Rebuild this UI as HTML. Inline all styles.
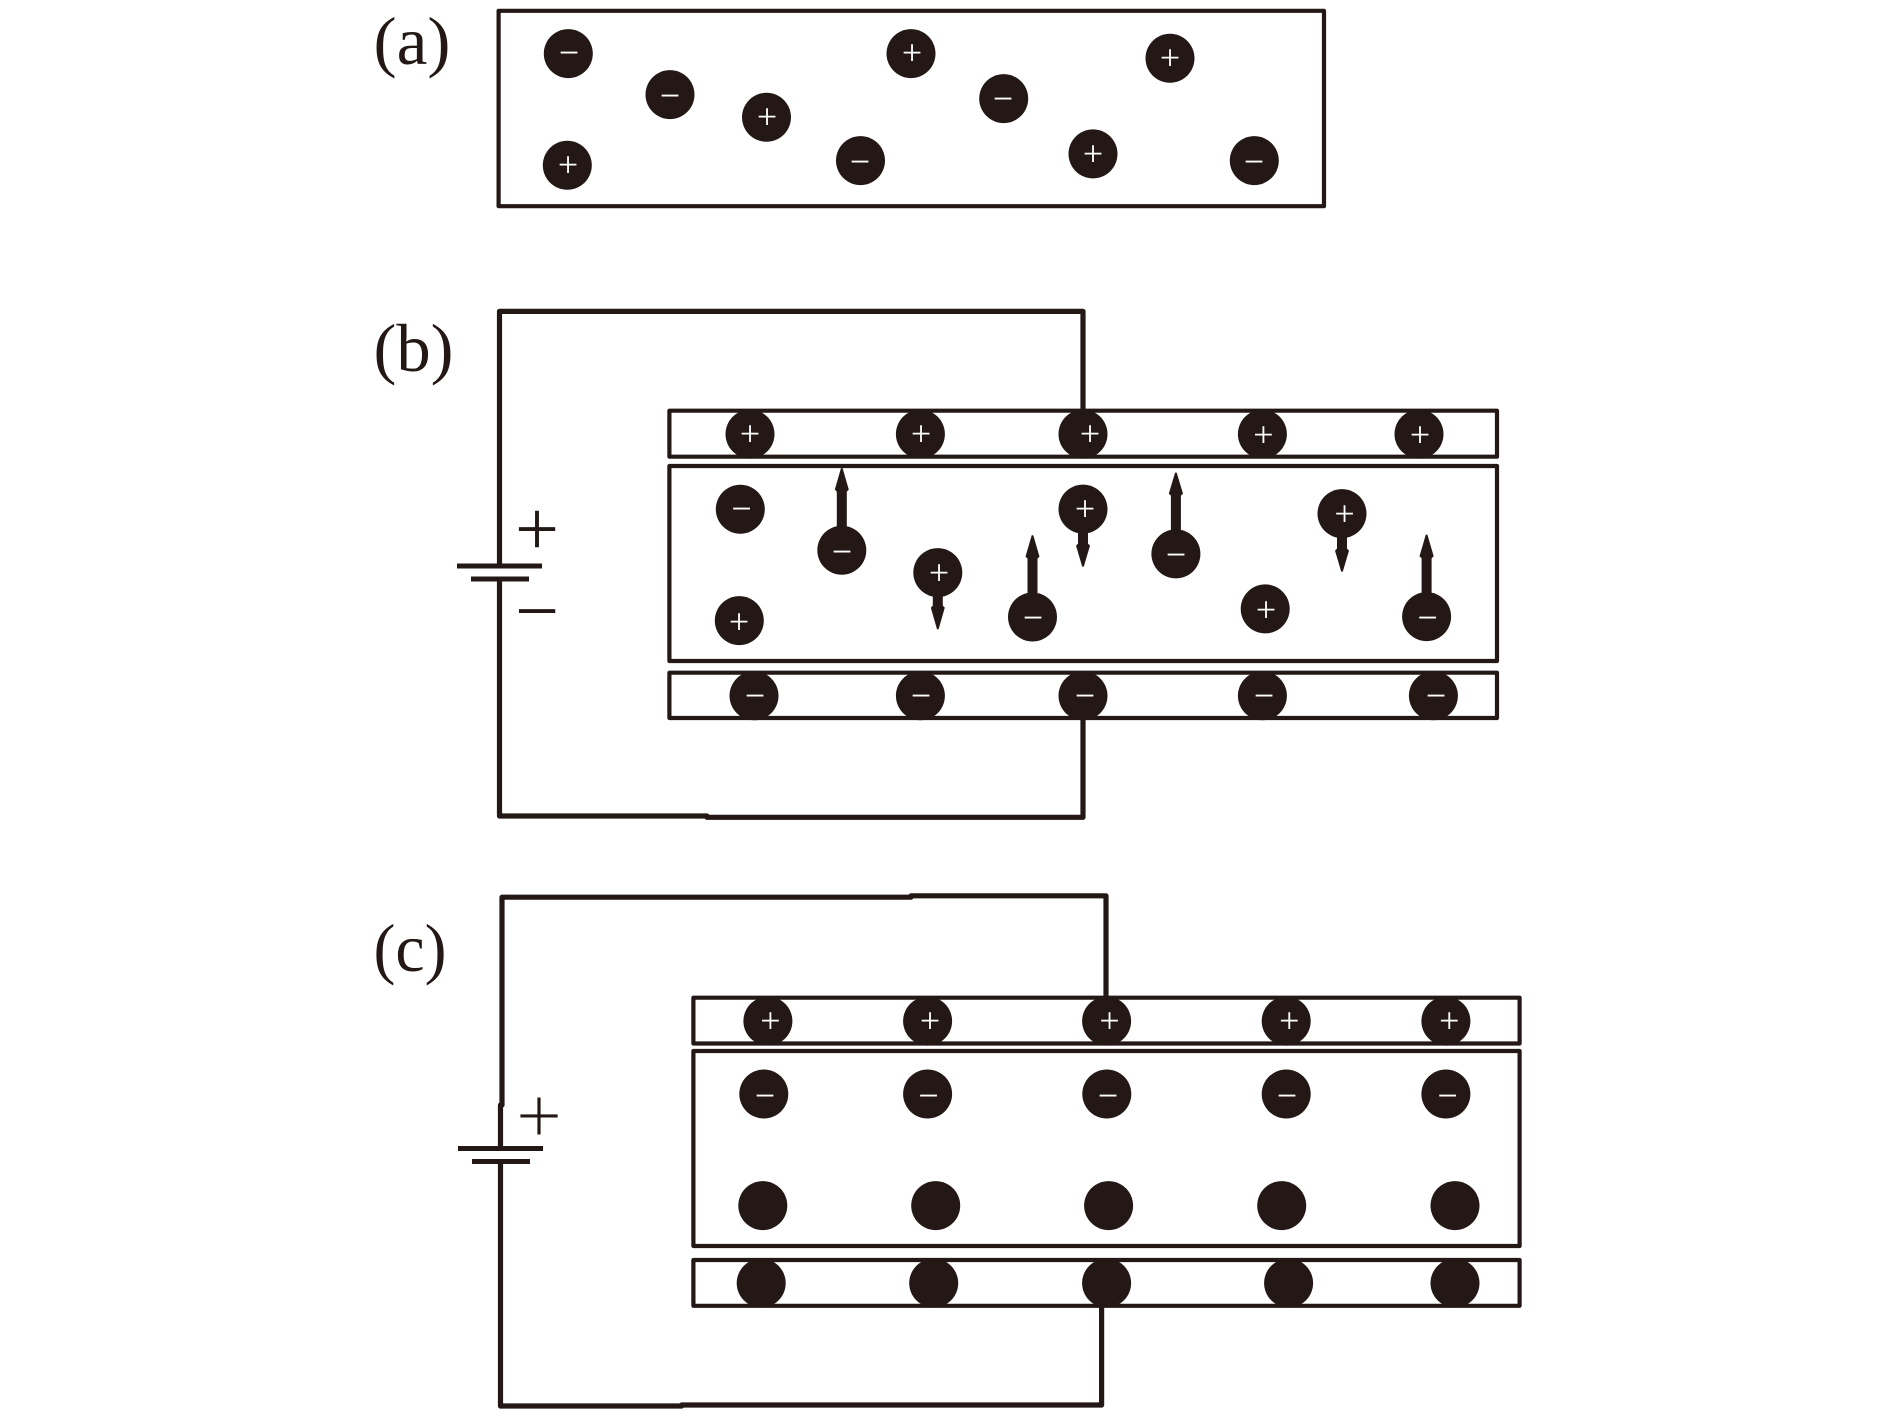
<!DOCTYPE html>
<html>
<head>
<meta charset="utf-8">
<style>
html,body{margin:0;padding:0;background:#fff;width:1890px;height:1418px;overflow:hidden}
svg{display:block}
.l{font-family:"Liberation Serif",serif;font-size:68px;fill:#231815}
.s{font-family:"Liberation Serif",serif;font-size:36px;fill:#fff;text-anchor:middle;transform:translateY(2.5px)}
.b{font-family:"Liberation Serif",serif;font-size:78px;fill:#231815;text-anchor:middle}
.r{fill:none;stroke:#231815;stroke-width:4.2;stroke-linejoin:round}
.w{fill:none;stroke:#231815;stroke-width:5.2;stroke-linejoin:round}
.c{fill:#231815;transform:translateY(.6px)}
</style>
</head>
<body>
<svg xmlns="http://www.w3.org/2000/svg" width="1890" height="1418" viewBox="0 0 1890 1418">
<rect width="1890" height="1418" fill="#fff"/>

<!-- labels -->
<text class="l" x="373.5" y="64" textLength="77" lengthAdjust="spacingAndGlyphs">(a)</text>
<text class="l" x="373.5" y="371" textLength="80" lengthAdjust="spacingAndGlyphs">(b)</text>
<text class="l" x="373.5" y="971" textLength="73" lengthAdjust="spacingAndGlyphs">(c)</text>

<!-- panel a -->
<g class="c">
<circle cx="568.3" cy="53" r="24.5"/><circle cx="670" cy="94" r="24.5"/><circle cx="766.5" cy="116.7" r="24.5"/>
<circle cx="911" cy="53" r="24.5"/><circle cx="1003.7" cy="98" r="24.5"/><circle cx="1170" cy="57.7" r="24.5"/>
<circle cx="567.3" cy="164.7" r="24.5"/><circle cx="860.5" cy="160" r="24.5"/><circle cx="1093" cy="153.3" r="24.5"/>
<circle cx="1254.3" cy="160" r="24.5"/>
</g>
<rect class="r" x="498.6" y="10.8" width="825.4" height="195.4"/>
<text class="s" x="569" y="62">−</text>
<text class="s" x="670" y="105">−</text>
<text class="s" x="767" y="126">+</text>
<text class="s" x="912" y="62">+</text>
<text class="s" x="1003" y="108">−</text>
<text class="s" x="1170" y="67">+</text>
<text class="s" x="568" y="174">+</text>
<text class="s" x="860" y="171">−</text>
<text class="s" x="1093" y="163">+</text>
<text class="s" x="1254" y="171">−</text>

<!-- panel b wires & battery -->
<path class="w" d="M499.5 566V311.4H1083V411"/>
<path class="w" d="M499.5 579V816H707V817.3H1083V718"/>
<rect x="457" y="563.5" width="85" height="5" fill="#231815"/>
<rect x="471" y="576.5" width="58" height="5" fill="#231815"/>
<text class="b" x="537" y="555">+</text>
<text class="b" x="537" y="637">−</text>

<!-- panel b circles -->
<g class="c">
<circle cx="750" cy="433.5" r="24.5"/><circle cx="920.4" cy="433.5" r="24.5"/><circle cx="1083" cy="433.5" r="24.5"/><circle cx="1262.4" cy="433.5" r="24.5"/><circle cx="1419" cy="433.5" r="24.5"/>
<circle cx="740.3" cy="508.6" r="24.5"/><circle cx="739.3" cy="620" r="24.5"/><circle cx="841.8" cy="549.6" r="24.5"/>
<circle cx="937.8" cy="572" r="24.5"/><circle cx="1032.5" cy="616.4" r="24.5"/><circle cx="1083" cy="508.5" r="24.5"/>
<circle cx="1175.9" cy="553.3" r="24.5"/><circle cx="1342" cy="513" r="24.5"/><circle cx="1265.2" cy="608.3" r="24.5"/>
<circle cx="1426.6" cy="616" r="24.5"/>
<circle cx="754" cy="695.2" r="24.5"/><circle cx="920.4" cy="695.2" r="24.5"/><circle cx="1083" cy="695.2" r="24.5"/><circle cx="1262.4" cy="695.2" r="24.5"/><circle cx="1433.4" cy="695.2" r="24.5"/>
<!-- arrows -->
<polygon points="841,467.5 842.6,467.5 848.8,489 846.8,491 846.8,530 836.8,530 836.8,491 834.8,489"/>
<polygon points="1031.7,534.6 1033.3,534.6 1039.5,556 1037.5,558 1037.5,595 1027.5,595 1027.5,558 1025.5,556"/>
<polygon points="1175.1,472 1176.7,472 1183,493 1180.9,495 1180.9,532 1170.9,532 1170.9,495 1168.8,493"/>
<polygon points="1425.8,534 1427.4,534 1433.7,555.7 1431.6,557.7 1431.6,595 1421.6,595 1421.6,557.7 1419.5,555.7"/>
<polygon points="938.6,628.6 937,628.6 930.8,607 932.8,605 932.8,590 942.8,590 942.8,605 944.8,607"/>
<polygon points="1083.8,566 1082.2,566 1076,545 1078,543 1078,526 1088,526 1088,543 1090,545"/>
<polygon points="1342.8,571 1341.2,571 1335,550 1337,548 1337,531 1347,531 1347,548 1349,550"/>
</g>
<rect class="r" x="669.4" y="410.7" width="827.6" height="46"/>
<rect class="r" x="669.4" y="466" width="827.6" height="195"/>
<rect class="r" x="669.4" y="672.7" width="827.6" height="45.3"/>
<text class="s" x="750" y="443">+</text>
<text class="s" x="921" y="443">+</text>
<text class="s" x="1090" y="443">+</text>
<text class="s" x="1263.4" y="444">+</text>
<text class="s" x="1420" y="444">+</text>
<text class="s" x="741.5" y="518">−</text>
<text class="s" x="739" y="631">+</text>
<text class="s" x="842" y="561">−</text>
<text class="s" x="939" y="582">+</text>
<text class="s" x="1033" y="627">−</text>
<text class="s" x="1085" y="518">+</text>
<text class="s" x="1176" y="564">−</text>
<text class="s" x="1344.5" y="523">+</text>
<text class="s" x="1266" y="619">+</text>
<text class="s" x="1427.6" y="627">−</text>
<text class="s" x="755" y="705">−</text>
<text class="s" x="921" y="705">−</text>
<text class="s" x="1085" y="705">−</text>
<text class="s" x="1264" y="705">−</text>
<text class="s" x="1436" y="705">−</text>

<!-- panel c wires & battery -->
<path class="w" d="M500.5 1146V1105H502V897.2H911V895.8H1106V998"/>
<path class="w" d="M500.5 1161V1406H681.6V1405H1101.6V1306"/>
<rect x="458" y="1146" width="85" height="5" fill="#231815"/>
<rect x="472" y="1159" width="58" height="5" fill="#231815"/>
<text class="b" x="539" y="1143" stroke="#fff" stroke-width="0.9" style="font-size:82px">+</text>

<!-- panel c circles -->
<g class="c">
<circle cx="767.9" cy="1020.5" r="24.5"/><circle cx="927.6" cy="1020.5" r="24.5"/><circle cx="1106.6" cy="1020.5" r="24.5"/><circle cx="1286.2" cy="1020.5" r="24.5"/><circle cx="1445.9" cy="1020.5" r="24.5"/>
<circle cx="763.8" cy="1093.4" r="24.5"/><circle cx="927.6" cy="1093.4" r="24.5"/><circle cx="1106.8" cy="1093.4" r="24.5"/><circle cx="1286.2" cy="1093.4" r="24.5"/><circle cx="1445.9" cy="1093.4" r="24.5"/>
<circle cx="762.8" cy="1205" r="24.5"/><circle cx="935.7" cy="1205" r="24.5"/><circle cx="1108.6" cy="1205" r="24.5"/><circle cx="1281.7" cy="1205" r="24.5"/><circle cx="1455" cy="1205" r="24.5"/>
<circle cx="761.2" cy="1282.5" r="24.5"/><circle cx="933.7" cy="1282.5" r="24.5"/><circle cx="1106.6" cy="1282.5" r="24.5"/><circle cx="1288.6" cy="1282.5" r="24.5"/><circle cx="1455" cy="1282.5" r="24.5"/>
</g>
<rect class="r" x="693.4" y="997.7" width="826.2" height="45.8"/>
<rect class="r" x="693.4" y="1051" width="826.2" height="195"/>
<rect class="r" x="693.4" y="1260" width="826.2" height="45.8"/>
<text class="s" x="770.4" y="1030">+</text>
<text class="s" x="930" y="1030">+</text>
<text class="s" x="1109.5" y="1030">+</text>
<text class="s" x="1289.3" y="1030">+</text>
<text class="s" x="1449.3" y="1030">+</text>
<text class="s" x="765" y="1105">−</text>
<text class="s" x="928.5" y="1105">−</text>
<text class="s" x="1108" y="1105">−</text>
<text class="s" x="1287" y="1105">−</text>
<text class="s" x="1447.6" y="1105">−</text>
</svg>
</body>
</html>
